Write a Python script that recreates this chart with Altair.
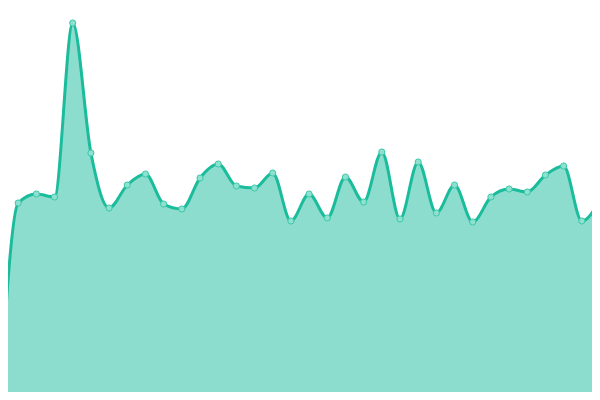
import altair as alt
import pandas as pd

idx = list(range(34))
values = [2, 197, 206, 203, 377, 247, 192, 215, 226, 196, 191, 222, 236, 214, 212, 227, 179, 206,
          182, 223, 198, 248, 181, 238, 187, 215, 178, 203, 211, 208, 225, 234, 179, 200]

df = pd.DataFrame({"i": idx, "v": values})

# page margin is 8px: map the visible window (8..592, 8..392) to the same data window as the reference
x = alt.X("i:Q", axis=None,
          scale=alt.Scale(domain=[8 * 33 / 600, 592 * 33 / 600], nice=False, zero=False))
y = alt.Y("v:Q", axis=None, scale=alt.Scale(domain=[8, 392], nice=False, zero=False))

base = alt.Chart(df).encode(x=x, y=y)

area = base.mark_area(interpolate="monotone", color="#1abc9c", opacity=0.5, clip=True)
line = base.mark_line(interpolate="monotone", color="#1abc9c", strokeWidth=3, clip=True)
pts = base.mark_point(filled=True, fill="#8ee0d0", stroke="#3cc9a8", strokeWidth=1, size=38,
                      opacity=1, clip=True)

chart = (area + line + pts).properties(
    width=584, height=384,
    autosize=alt.AutoSizeParams(type="none"),
    padding=0,
).configure(background="white").configure_view(stroke=None, strokeWidth=0)

chart.save("out.html", embed_options={"renderer": "svg", "actions": False})
